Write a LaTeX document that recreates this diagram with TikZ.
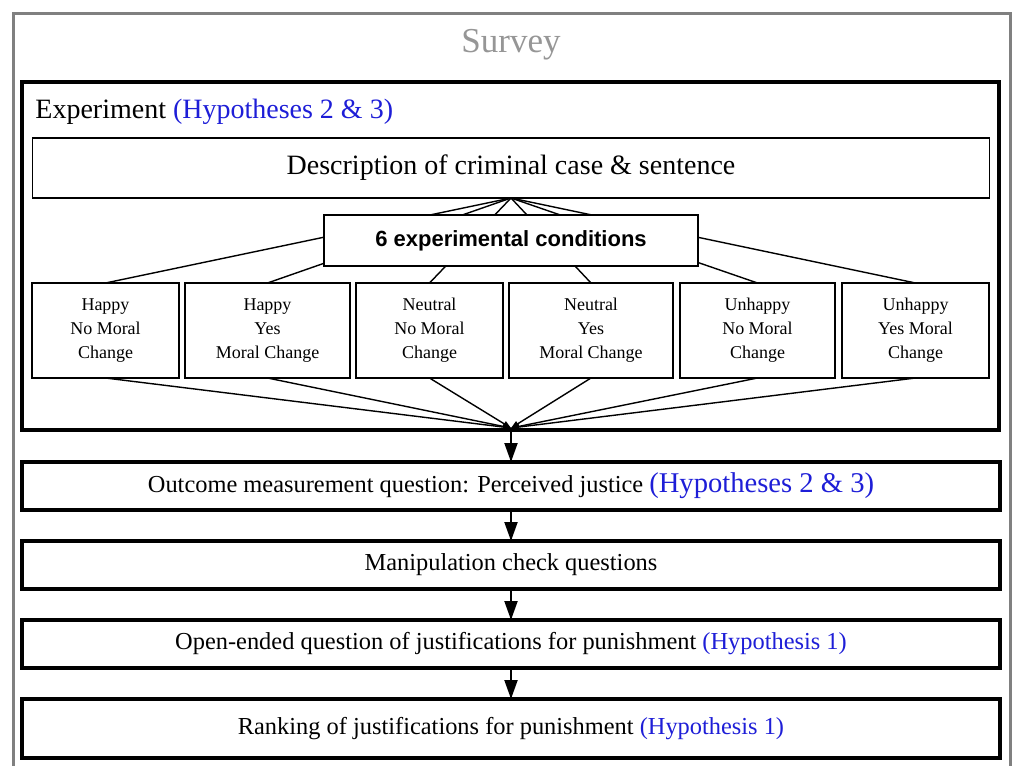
\documentclass[tikz,border=0pt]{standalone}
\usepackage{fontspec}
\setmainfont{Liberation Serif}
\newfontfamily\condsfont{Liberation Sans}
\usepackage{tikz}
\usetikzlibrary{arrows.meta, positioning}

\definecolor{hypblue}{RGB}{30,30,215}
\definecolor{framegray}{RGB}{128,128,128}
\definecolor{titlegray}{RGB}{150,150,150}
\newcommand{\hyp}[1]{\textcolor{hypblue}{#1}}

\begin{document}
\begin{tikzpicture}[
  x=0.5pt, y=-0.5pt,
  node distance=15.5pt,
  box/.style={draw, line width=0.75pt, align=center, inner sep=0pt, outer sep=0pt},
  cond/.style={box, minimum height=47.5pt, font=\fontsize{9}{12}\selectfont},
  stage/.style={draw, line width=2pt, minimum width=489pt, minimum height=24pt, inner sep=0pt, outer sep=0pt, font=\fontsize{12.2}{14}\selectfont},
  fan/.style={line width=0.7pt},
  arrow/.style={-{Triangle[length=9.5pt, width=6.5pt]}, line width=1pt}
]
\useasboundingbox (0,0) rectangle (1013,766);
\draw[framegray, line width=1.5pt] (13,13) rectangle (1010,790);

\node[text=titlegray, font=\fontsize{17.5}{20}\selectfont] (title) at (511,45) {Survey};

% experiment block
\node[draw, line width=2pt, minimum width=488.5pt, minimum height=174pt, inner sep=0pt, outer sep=0pt] (exp) at (510.5,256) {};
\node[anchor=west, inner sep=0pt, font=\fontsize{14}{16}\selectfont] (explabel) at (35,112) {Experiment \hyp{(Hypotheses 2 \& 3)}};

\node[box, minimum width=478.5pt, minimum height=30pt, font=\fontsize{14}{16}\selectfont] (desc) at (511,168) {Description of criminal case \& sentence};

\node[cond, minimum width=73.5pt] (c1) at (105.5,330.5) {Happy\\No Moral\\Change};
\node[cond, minimum width=82.5pt] (c2) at (267.5,330.5) {Happy\\Yes\\Moral Change};
\node[cond, minimum width=73.5pt] (c3) at (429.5,330.5) {Neutral\\No Moral\\Change};
\node[cond, minimum width=82pt] (c4) at (591,330.5) {Neutral\\Yes\\Moral Change};
\node[cond, minimum width=77.5pt] (c5) at (757.5,330.5) {Unhappy\\No Moral\\Change};
\node[cond, minimum width=73.5pt] (c6) at (915.5,330.5) {Unhappy\\Yes Moral\\Change};

\foreach \i in {1,...,6}
  \draw[fan] (desc.south) -- (c\i.north);

\node[box, fill=white, minimum width=187pt, minimum height=25.5pt, font=\condsfont\bfseries\fontsize{11}{13}\selectfont] (conds) at (511,240.5) {6 experimental conditions};

\coordinate (conv) at (511,428);
\foreach \i in {1,...,6}
  \draw[fan, -{Triangle[length=4pt, width=3pt]}] (c\i.south) -- (conv);

% survey steps
\node[stage] (out) at (511,486) {Outcome measurement question: Perceived justice \hyp{\fontsize{14.3}{16}\selectfont(Hypotheses 2 \& 3)}};
\node[stage, below=of out] (manip) {Manipulation check questions};
\node[stage, below=of manip] (open) {Open-ended question of justifications for punishment \hyp{(Hypothesis 1)}};
\node[stage, minimum height=29.5pt, below=of open] (rank) {Ranking of justifications for punishment \hyp{(Hypothesis 1)}};

\draw[arrow] (conv) -- (out);
\draw[arrow] (out) -- (manip);
\draw[arrow] (manip) -- (open);
\draw[arrow] (open) -- (rank);
\end{tikzpicture}
\end{document}
